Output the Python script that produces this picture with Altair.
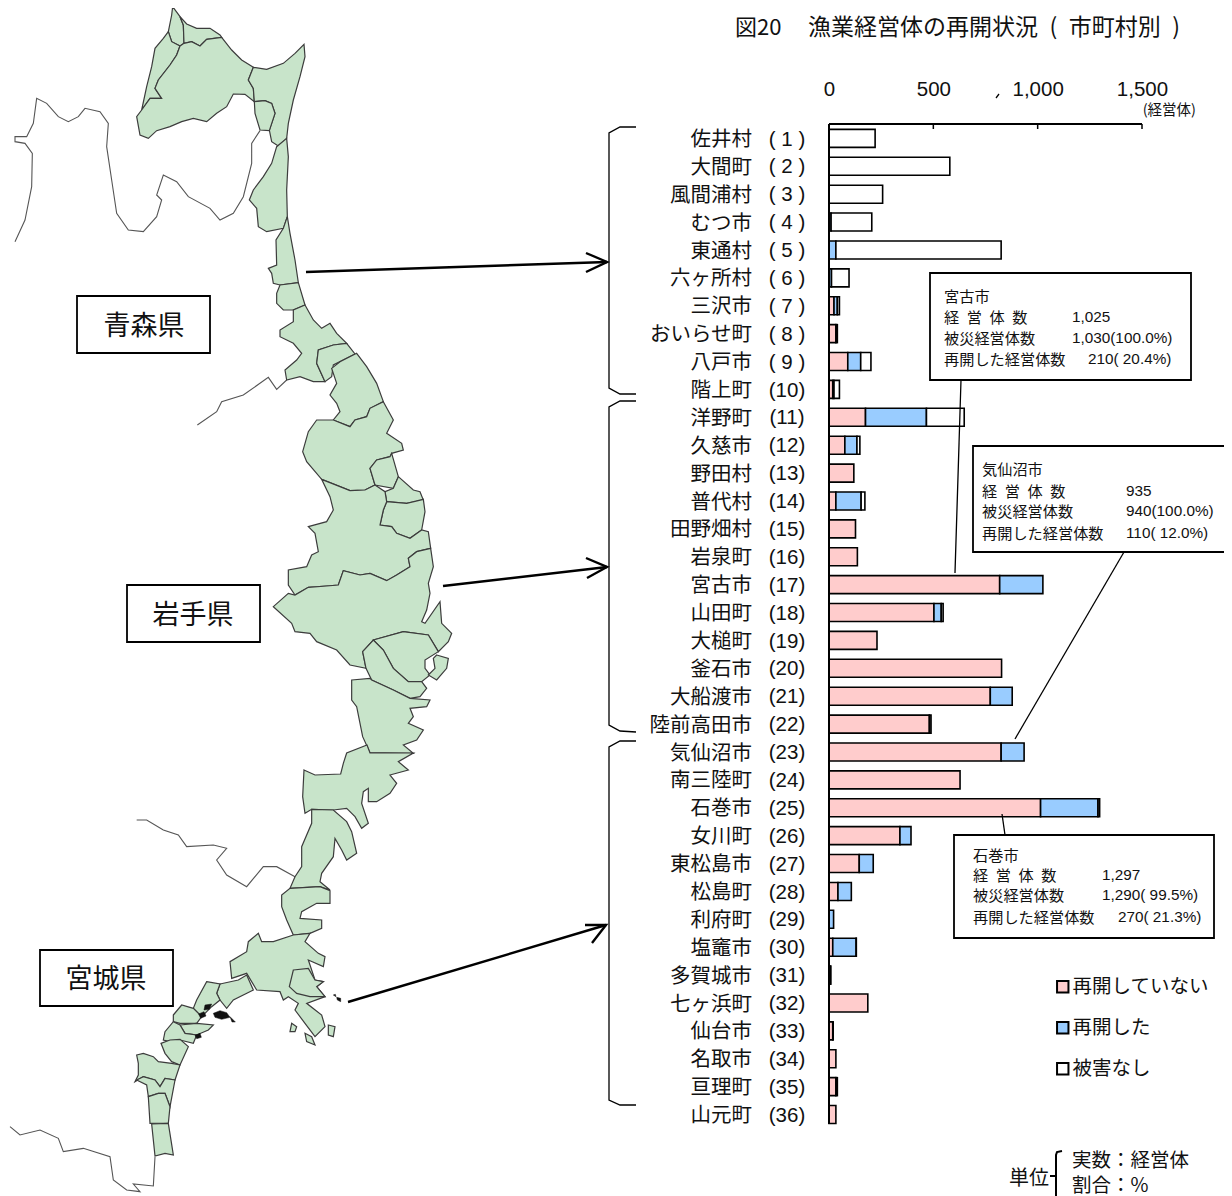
import altair as alt
import pandas as pd

# ---------- chart data ----------
names = ["佐井村","大間町","風間浦村","むつ市","東通村","六ヶ所村","三沢市","おいらせ町","八戸市","階上町",
         "洋野町","久慈市","野田村","普代村","田野畑村","岩泉町","宮古市","山田町","大槌町","釜石市",
         "大船渡市","陸前高田市","気仙沼市","南三陸町","石巻市","女川町","東松島市","松島町","利府町","塩竈市",
         "多賀城市","七ヶ浜町","仙台市","名取市","亘理町","山元町"]
not_resumed = [0,0,0,0,0,0,24,33,90,18,175,76,119,33,127,136,818,503,230,827,
               773,481,825,628,1014,340,145,43,0,18,6,186,18,33,33,33]
resumed     = [0,0,0,10,33,12,16,0,62,6,292,58,0,121,0,0,207,35,0,0,
               105,0,110,0,275,53,67,64,22,112,0,0,0,0,0,0]
no_damage   = [221,579,257,195,792,84,10,7,49,26,181,14,0,18,0,0,0,9,0,0,
               0,8,0,0,8,0,0,0,0,1,3,0,2,0,7,0]
series_names = ["再開していない","再開した","被害なし"]
series_colors = ["#FFCCCC","#99CCFF","#FFFFFF"]
tick_values = [0,500,1000,1500]

# ---------- map outlines (crop units, 3 per pixel) ----------
AOMORI = [
 [(518,20),(515,45),(505,95),(515,125),(540,138),(552,130),(550,75),(540,50)],
 [(540,50),(560,72),(590,85),(630,85),(660,105),(665,112),(620,118),(600,138),(575,125),(552,130),(550,75)],
 [(505,95),(490,115),(465,145),(455,200),(440,260),(425,330),(450,295),(485,295),(465,265),(475,240),(510,195),(530,165),(540,138),(515,125)],
 [(540,138),(552,130),(575,125),(600,138),(620,118),(665,112),(695,150),(725,180),(760,202),(745,240),(760,265),(763,305),(735,283),(700,282),(680,320),(650,340),(620,365),(580,355),(545,365),(510,380),(470,392),(445,415),(420,405),(410,350),(425,330),(450,295),(485,295),(465,265),(475,240),(510,195),(530,165)],
 [(760,202),(800,208),(850,190),(885,160),(912,133),(915,170),(900,230),(880,300),(865,370),(860,415),(835,438),(815,425),(808,390),(825,340),(815,310),(795,302),(763,305),(760,265),(745,240)],
 [(763,305),(795,302),(815,310),(825,340),(808,392),(780,390),(765,340)],
 [(860,415),(865,470),(860,570),(862,650),(850,685),(800,695),(775,680),(770,625),(748,600),(760,570),(790,530),(815,490),(830,440)],
 [(862,650),(870,700),(885,780),(895,848),(840,855),(820,850),(815,820),(805,805),(830,795),(828,720),(850,685)],
 [(895,848),(915,915),(880,930),(850,930),(830,910),(830,880),(840,855)],
 [(915,915),(940,960),(965,985),(990,970),(1010,1000),(1040,1030),(1000,1035),(955,1050),(950,1090),(975,1145),(940,1145),(900,1130),(860,1140),(855,1110),(890,1080),(905,1060),(880,1030),(840,1010),(840,990),(880,965),(880,930)],
 [(1040,1030),(1065,1062),(1000,1095),(995,1130),(975,1145),(950,1090),(955,1050),(1000,1035)],
]
IWATE = [
 [(530,40),(560,80),(590,130),(610,185),(570,205),(560,230),(525,240),(510,260),(460,240),(480,215),(470,190),(450,165),(470,130),(455,85),(480,65)],
 [(610,185),(640,240),(620,280),(665,310),(670,330),(635,340),(630,350),(590,360),(570,385),(585,435),(555,450),(510,452),(480,440),(425,418),(380,365),(368,335),(385,275),(410,240),(460,240),(510,260),(525,240),(560,230),(570,205)],
 [(635,340),(655,410),(640,445),(585,435),(570,385),(590,360),(630,350)],
 [(655,410),(700,450),(720,455),(730,480),(680,490),(620,485),(615,455),(640,445)],
 [(620,485),(680,490),(730,478),(735,515),(725,570),(690,595),(650,580),(635,560),(600,555),(610,510)],
 [(425,418),(480,440),(510,452),(555,450),(585,435),(615,455),(620,485),(610,510),(600,555),(635,560),(650,580),(690,595),(725,570),(745,575),(752,625),(710,635),(685,655),(690,680),(650,705),(620,722),(570,700),(540,705),(490,692),(475,735),(440,738),(385,742),(345,765),(325,735),(325,690),(380,680),(395,645),(415,635),(405,580),(385,560),(440,545),(460,510),(450,470)],
 [(752,625),(760,680),(745,730),(750,760),(740,810),(725,845),(735,850),(780,785),(785,850),(815,880),(805,905),(775,935),(745,885),(670,875),(580,900),(548,935),(558,985),(510,975),(470,930),(410,905),(390,880),(345,875),(335,850),(280,800),(325,760),(345,765),(385,742),(440,738),(475,735),(490,692),(540,705),(570,700),(620,722),(650,705),(690,680),(685,655),(710,635)],
 [(580,900),(670,875),(745,885),(775,935),(735,960),(735,985),(750,1005),(725,1025),(685,1025),(640,985),(610,930)],
 [(770,945),(805,955),(800,985),(770,1020),(745,1005),(765,985),(760,955)],
 [(548,935),(580,900),(610,930),(640,985),(685,1025),(725,1025),(740,1045),(720,1070),(690,1075),(640,1050),(575,1020),(558,985)],
 [(515,1020),(570,1015),(575,1020),(640,1050),(690,1075),(750,1080),(740,1100),(690,1105),(700,1130),(685,1150),(730,1170),(710,1200),(670,1215),(700,1240),(570,1238),(548,1190),(530,1100),(515,1080)],
]
MIYAGI = [
 [(912,30),(945,45),(1022,42),(1030,10),(1040,-21),(1101,-45),(1110,-21),(1240,-21),(1195,5),(1225,30),(1170,45),(1190,70),(1170,100),(1130,125),(1105,125),(1105,85),(1090,95),(1085,130),(1105,190),(1085,205),(1065,170),(1040,145),(1000,150),(935,148),(915,160),(908,110)],
 [(935,148),(1000,150),(1040,185),(1055,215),(1070,280),(1040,300),(1025,270),(1005,235),(1000,290),(965,340),(960,365),(990,390),(960,380),(870,385),(885,350),(905,320),(905,260),(935,190)],
 [(870,385),(960,380),(990,392),(990,430),(950,430),(905,455),(900,475),(965,480),(965,505),(930,520),(880,525),(860,480),(845,440),(845,405)],
 [(880,525),(930,520),(915,545),(955,580),(975,590),(970,620),(925,600),(945,660),(970,665),(950,680),(975,710),(920,730),(965,765),(975,800),(945,830),(915,790),(885,750),(895,730),(865,710),(850,720),(840,695),(770,690),(740,640),(695,655),(690,605),(740,575),(745,545),(775,520),(785,545),(820,545)],
 [(880,630),(925,625),(945,660),(970,665),(950,680),(975,710),(930,710),(890,700),(868,680)],
 [(875,790),(890,800),(885,815),(870,815)],
 [(915,820),(935,830),(945,855),(920,845)],
 [(985,795),(1005,800),(1000,830),(985,825)],
 [(660,672),(715,660),(740,645),(760,690),(700,720),(680,745),(660,720),(650,700)],
 [(620,665),(660,672),(650,700),(660,720),(635,740),(605,770),(580,745),(590,720)],
 [(520,765),(545,735),(580,745),(605,770),(590,790),(540,790),(520,785)],
 [(540,795),(590,790),(640,795),(625,810),(590,825),(555,820)],
 [(490,840),(495,815),(520,785),(540,795),(555,820),(590,825),(580,850),(540,840),(510,845)],
 [(483,850),(510,840),(540,838),(565,860),(540,915),(515,905),(495,880)],
 [(410,885),(430,880),(460,890),(475,905),(515,910),(540,915),(525,960),(495,955),(480,980),(465,960),(430,950),(405,965),(415,945),(415,910)],
 [(410,960),(430,950),(465,960),(480,980),(495,955),(525,960),(510,1040),(495,1000),(475,1000),(445,1010),(440,975)],
 [(445,1010),(475,1000),(495,1000),(510,1040),(505,1090),(450,1090)],
 [(455,1092),(505,1090),(520,1185),(495,1180),(465,1188)],
]
BAY_ISLETS = [
 [(640,760),(660,752),(680,758),(690,772),(665,778),(645,772)],
 [(690,770),(706,786),(696,786)],
 [(615,735),(635,732),(628,748),(612,750)],
 [(596,762),(612,755),(618,768),(602,775)],
 [(585,826),(600,820),(604,832),(590,836)],
]
ISLETS = [[(1000,705),(1006,703),(1008,710)], [(1010,712),(1022,715),(1022,725),(1012,720)]]
BORDERS_Z4 = [[(45,725),(75,660),(95,560),(97,460),(75,430),(45,425),(45,410),(80,410),(100,370),(110,295),(140,310),(175,350),(205,365),(235,350),(255,325),(300,335),(325,370),(320,440),(335,540),(350,640),(385,690),(430,695),(470,650),(485,600),(470,585),(490,525),(530,545),(565,590),(630,625),(660,660),(700,640),(730,590),(755,490),(755,430),(780,392)]]
BORDERS_Z5 = [[(52,255),(110,215),(125,185),(190,165),(265,112),(290,148),(320,120)]]
BORDERS_Z6 = [[(410,180),(440,180),(490,210),(535,225),(560,260),(640,255),(680,265),(650,300),(680,345),(740,380),(790,320),(830,320),(885,350)],
              [(30,1100),(60,1125),(120,1110),(175,1135),(190,1175),(250,1165),(330,1190),(340,1260),(380,1290),(420,1295),(400,1272),(460,1278),(465,1190)],
              [(1022,42),(1035,70),(1065,90),(1085,130)]]

# ---------- annotation geometry, in picture pixels ----------
paths = {
 "arrow1": [(306,272),(607,262)], "head1": [(586,253),(607,262),(586,272)],
 "arrow2": [(443,586),(607,567)], "head2": [(586,558),(607,567),(587,578)],
 "arrow3": [(348,1002),(606,925)], "head3": [(585,925),(606,925),(592,943)],
}
thin_paths = {
 "brace1": [(636,127),(620,127),(609,133),(609,388),(620,394),(636,394)],
 "brace2": [(636,401),(620,401),(609,407),(609,725),(620,731),(636,732)],
 "brace3": [(636,741),(620,741),(609,747),(609,1100),(620,1105),(636,1105)],
 "lead1": [(961,380),(955,573)], "lead2": [(1124,552),(1015,739)], "lead3": [(1002,814),(1005,835)],
 "speck": [(996,98),(999,94)],
}
unit_brace = {"v": [(1062,1151),(1057,1152),(1056,1155),(1056,1196)], "h": [(1050,1176),(1056,1176)]}
axis_paths = {"top": [(829,124),(1142,124)], "left": [(829,124),(829,1124)]}
boxes = [(77,296,210,353),(127,585,260,642),(40,950,173,1006),
         (930,273,1191,380),(973,446,1225,552),(954,835,1214,938)]
pref_text = [("青森県",144,325),("岩手県",193,614),("宮城県",106,978)]
callout_kanji = [("宮古市",944,296),("経\u2002営\u2002体\u2002数",944,317),("被災経営体数",944,338),("再開した経営体数",944,359),
                 ("気仙沼市",982,469),("経\u2002営\u2002体\u2002数",982,491),("被災経営体数",982,511),("再開した経営体数",982,533),
                 ("石巻市",973,855),("経\u2002営\u2002体\u2002数",973,875),("被災経営体数",973,895),("再開した経営体数",973,917)]
callout_nums = [("1,025",1072,317),("1,030(100.0%)",1072,338),("210( 20.4%)",1088,359),
                ("935",1126,491),("940(100.0%)",1126,511),("110( 12.0%)",1126,533),
                ("1,297",1102,875),("1,290( 99.5%)",1102,895),("270( 21.3%)",1118,917)]
unit_text = [("実数：経営体",1072,1159),("割合：%",1072,1184)]

# ---------- helpers ----------
W, H = 1216, 1188
LEFT, TOP = 8, 8
JP = "Noto Sans CJK JP"
LAT = "Liberation Sans"
px_x = alt.X("x:Q", axis=None, scale=alt.Scale(domain=[LEFT, LEFT + W]))
px_y = alt.Y("y:Q", axis=None, scale=alt.Scale(domain=[TOP + H, TOP]))
px_x2 = alt.X2("x2:Q")
px_y2 = alt.Y2("y2:Q")

def crop(points, ox, oy):
    return [[ox + x / 3, oy + y / 3] for x, y in points]

def features(rings, kind):
    out = []
    for r in rings:
        coords = [r + [r[0]]] if kind == "Polygon" else r
        out.append({"type": "Feature", "properties": {}, "geometry": {"type": kind, "coordinates": coords}})
    return alt.Data(values={"type": "FeatureCollection", "features": out}, format=alt.DataFormat(property="features"))

proj = dict(type="identity", scale=1, translate=[-LEFT, -TOP])

def lines(d, width, color="black"):
    rows = [{"id": k, "i": i, "x": p[0], "y": p[1]} for k, v in d.items() for i, p in enumerate(v)]
    return alt.Chart(pd.DataFrame(rows)).mark_line(color=color, strokeWidth=width, interpolate="linear").encode(
        x=px_x, y=px_y, detail="id:N", order="i:Q")

def texts(rows, size, font=JP, align="left", dy=2):
    df = pd.DataFrame(rows, columns=["t", "x", "y"])
    return alt.Chart(df).mark_text(font=font, fontSize=size, align=align, baseline="middle", dy=dy,
                                   color="#111111").encode(x=px_x, y=px_y, text="t:N")

# ---------- map ----------
rings = [crop(r, 0, 0) for r in AOMORI] + [crop(r, 180, 340) for r in IWATE] + [crop(r, 0, 760) for r in MIYAGI]
map_fill = alt.Chart(features(rings, "Polygon")).mark_geoshape(fill="#C8E4CA", stroke="#3c3c3c", strokeWidth=1.2).project(**proj)
dark = alt.Chart(features([crop(r, 0, 760) for r in BAY_ISLETS + ISLETS], "Polygon")).mark_geoshape(fill="#111111", stroke="#111111", strokeWidth=0.5).project(**proj)
river_lines = [crop(r, 0, 0) for r in BORDERS_Z4] + [crop(r, 180, 340) for r in BORDERS_Z5] + [crop(r, 0, 760) for r in BORDERS_Z6]
rivers = alt.Chart(features(river_lines, "LineString")).mark_geoshape(filled=False, stroke="#555555", strokeWidth=1.1).project(**proj)

# ---------- bars ----------
K = (1142 - 829) / 1500.0           # pixels per 経営体
ROW0, ROWH = 138.4, 27.89           # centre of row 1 and row pitch in pixels
val_scale = alt.Scale(domain=[(LEFT - 829) / K, (LEFT + W - 829) / K], nice=False, zero=False)
row_scale = alt.Scale(domain=[1 + (TOP + H - ROW0) / ROWH, 1 + (TOP - ROW0) / ROWH], nice=False, zero=False, padding=0)

rows = []
for idx, n in enumerate(names):
    start = 0
    for s, v in zip(series_names, (not_resumed[idx], resumed[idx], no_damage[idx])):
        if v > 0:
            rows.append({"name": n, "row": idx + 1, "series": s, "start": start, "end": start + v})
            start += v
bars_df = pd.DataFrame(rows)

bars = alt.Chart(bars_df).mark_bar(orient="horizontal", height=18, stroke="black", strokeWidth=1.6).encode(
    x=alt.X("start:Q", scale=val_scale, title=None,
            axis=alt.Axis(orient="top", offset=-116, values=tick_values, format=",.0f", domain=False, grid=False,
                          ticks=False, labelPadding=25, labelFont=LAT, labelFontSize=20.5, labelColor="#111111",
                          labelOverlap=False, labelFlush=False)),
    x2="end:Q",
    y=alt.Y("row:Q", scale=row_scale, axis=None),
    color=alt.Color("series:N", scale=alt.Scale(domain=series_names, range=series_colors),
                    legend=alt.Legend(orient="none", legendX=1053 - LEFT, legendY=977 - TOP, title=None,
                                      symbolType="square", symbolSize=130, symbolStrokeColor="black",
                                      symbolStrokeWidth=2, symbolOpacity=1, labelFont=JP, labelFontSize=19.5,
                                      labelColor="#111111", rowPadding=20, labelOffset=0, labelLimit=200)),
)
ticks = alt.Chart(pd.DataFrame({"v": tick_values, "a": [124] * 4, "b": [129] * 4})).mark_rule(color="black", strokeWidth=1.5).encode(
    x=alt.X("v:Q", scale=val_scale, axis=None),
    y=alt.Y("a:Q", axis=None, scale=alt.Scale(domain=[TOP + H, TOP])),
    y2="b:Q")

cat_labels = [(n, 752, 138 + ROWH * i) for i, n in enumerate(names)]
num_labels = [("( %d )" % (i + 1) if i < 9 else "(%d)" % (i + 1), 787, 138 + ROWH * i) for i in range(len(names))]

box_df = pd.DataFrame(boxes, columns=["x", "y", "x2", "y2"])
box_layer = alt.Chart(box_df).mark_rect(fill="white", stroke="black", strokeWidth=1.8).encode(x=px_x, x2=px_x2, y=px_y, y2=px_y2)

chart = alt.layer(
    rivers, map_fill, dark,
    bars, ticks,
    lines(axis_paths, 2), lines(paths, 2.4), lines(thin_paths, 1.3), lines(unit_brace, 2),
    box_layer,
    texts(pref_text, 27, align="center"),
    texts(callout_kanji, 15.2, dy=0.5),
    texts(callout_nums, 15.3, font=LAT, dy=-0.5),
    texts([("図20", 735, 27)], 22, dy=1),
    texts([("漁業経営体の再開状況\u2002(\u2002市町村別\u2002)", 808, 27)], 23, dy=1),
    texts([("(経営体)", 1196, 110)], 14.5, align="right", dy=1),
    texts(cat_labels, 20.5, align="right"),
    texts(num_labels, 20.5, font=LAT, align="center", dy=1.5),
    texts([("単位", 1009, 1177)], 20),
    texts(unit_text, 19.5),
).resolve_scale(x="independent", y="independent").properties(
    width=W, height=H, padding=0, autosize=alt.AutoSizeParams(type="none")
).configure_view(stroke=None)

chart.save("out.html", embed_options={"renderer": "svg", "actions": False})
